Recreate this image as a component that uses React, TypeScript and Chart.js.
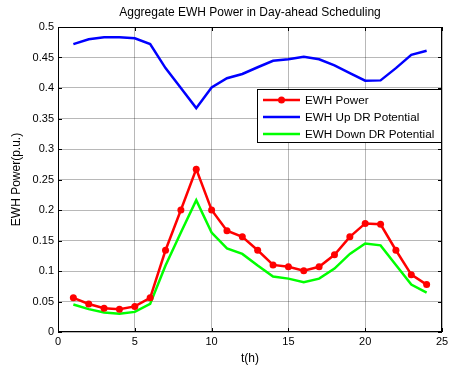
import React, { useEffect, useRef } from "react";
import { Chart, registerables } from "chart.js";

Chart.register(...registerables);

const hours = [1, 2, 3, 4, 5, 6, 7, 8, 9, 10, 11, 12, 13, 14, 15, 16, 17, 18, 19, 20, 21, 22, 23, 24];
const ewhPower = [0.056, 0.046, 0.039, 0.0375, 0.042, 0.056, 0.134, 0.2, 0.267, 0.2, 0.166, 0.156, 0.134, 0.11, 0.107, 0.1005, 0.107, 0.1266, 0.156, 0.178, 0.1766, 0.134, 0.094, 0.0777];
const upDR = [0.472, 0.48, 0.483, 0.483, 0.4815, 0.472, 0.4326, 0.4, 0.367, 0.401, 0.416, 0.423, 0.434, 0.4446, 0.447, 0.451, 0.447, 0.437, 0.4245, 0.412, 0.4125, 0.4326, 0.4543, 0.461];
const downDR = [0.045, 0.0375, 0.032, 0.03, 0.033, 0.046, 0.109, 0.163, 0.216, 0.163, 0.137, 0.128, 0.109, 0.091, 0.0875, 0.0815, 0.0875, 0.104, 0.128, 0.145, 0.142, 0.11, 0.0777, 0.0647];
const seriesLabels = ["EWH Power", "EWH Up DR Potential", "EWH Down DR Potential"];
const seriesColors = ["#ff0000", "#0000ff", "#00ff00"];
const titleText = "Aggregate EWH Power in Day-ahead Scheduling";
const xTitle = "t(h)";
const yTitle = "EWH Power(p.u.)";

const FONT = "Arial, 'Liberation Sans', sans-serif";

const framePlugin = {
  id: "frame",
  afterDraw(chart: any) {
    const { ctx, chartArea } = chart;
    const { left, right, top, bottom } = chartArea;
    const xs = chart.scales.x;
    const ys = chart.scales.y;
    ctx.save();
    ctx.strokeStyle = "#000";
    ctx.lineWidth = 1;
    ctx.strokeRect(left + 0.5, top + 0.5, right - left - 1, bottom - top - 1);
    const tl = 4;
    ctx.beginPath();
    xs.ticks.forEach((t: any) => {
      const px = Math.round(xs.getPixelForValue(t.value)) + 0.5;
      ctx.moveTo(px, bottom);
      ctx.lineTo(px, bottom - tl);
      ctx.moveTo(px, top);
      ctx.lineTo(px, top + tl);
    });
    ys.ticks.forEach((t: any) => {
      const py = Math.round(ys.getPixelForValue(t.value)) + 0.5;
      ctx.moveTo(left, py);
      ctx.lineTo(left + tl, py);
      ctx.moveTo(right, py);
      ctx.lineTo(right - tl, py);
    });
    ctx.stroke();
    ctx.fillStyle = "#000";
    ctx.font = `12px ${FONT}`;
    ctx.textAlign = "center";
    ctx.textBaseline = "middle";
    ctx.fillText(titleText, (left + right) / 2, 13);
    ctx.fillText(xTitle, (left + right) / 2, 359);
    ctx.save();
    ctx.translate(17, (top + bottom) / 2);
    ctx.rotate(-Math.PI / 2);
    ctx.fillText(yTitle, 0, 0);
    ctx.restore();
    const lx = 257, ly = 89, lw = 184, lh = 53;
    ctx.fillStyle = "#fff";
    ctx.fillRect(lx, ly, lw, lh);
    ctx.strokeStyle = "#000";
    ctx.lineWidth = 1;
    ctx.strokeRect(lx + 0.5, ly + 0.5, lw, lh);
    chart.data.datasets.forEach((ds: any, i: number) => {
      const y = ly + 11 + i * 17;
      ctx.strokeStyle = ds.borderColor;
      ctx.lineWidth = 2.5;
      ctx.beginPath();
      ctx.moveTo(lx + 6, y);
      ctx.lineTo(lx + 43, y);
      ctx.stroke();
      if (ds.pointRadius > 0) {
        ctx.fillStyle = ds.borderColor;
        ctx.beginPath();
        ctx.arc(lx + 24.5, y, 3.5, 0, Math.PI * 2);
        ctx.fill();
      }
      ctx.fillStyle = "#000";
      ctx.textAlign = "left";
      ctx.font = `11.7px ${FONT}`;
      ctx.fillText(ds.label, lx + 48, y + 1);
    });
    ctx.restore();
  },
};

export default function App() {
  const ref = useRef<HTMLCanvasElement>(null);
  useEffect(() => {
    document.body.style.margin = "0";
    const mk = (i: number, data: number[], marker: boolean) => ({
      label: seriesLabels[i],
      data: hours.map((h, k) => ({ x: h, y: data[k] })),
      borderColor: seriesColors[i],
      backgroundColor: seriesColors[i],
      borderWidth: 2.5,
      pointRadius: marker ? 3.5 : 0,
      pointBorderWidth: 0,
      pointBackgroundColor: seriesColors[i],
      tension: 0,
    });
    const chart = new Chart(ref.current!, {
      type: "line",
      data: {
        datasets: [mk(0, ewhPower, true), mk(1, upDR, false), mk(2, downDR, false)],
      },
      plugins: [framePlugin],
      options: {
        animation: false,
        responsive: false,
        devicePixelRatio: 1,
        layout: { padding: { top: 27, right: 12, left: 0, bottom: 0 } },
        plugins: { legend: { display: false }, title: { display: false }, tooltip: { enabled: false } },
        scales: {
          x: {
            type: "linear",
            min: 0,
            max: 25,
            ticks: { stepSize: 5, color: "#000", font: { size: 11, family: FONT }, padding: 3, maxRotation: 0 },
            grid: { color: "rgba(0,0,0,0.28)", drawTicks: false },
            border: { display: false },
            afterFit: (s: any) => { s.height = 38; },
          },
          y: {
            min: 0,
            max: 0.5,
            ticks: {
              stepSize: 0.05,
              color: "#000",
              font: { size: 11, family: FONT },
              padding: 4,
              callback: (v: any) => String(Math.round(v * 100) / 100),
            },
            grid: { color: "rgba(0,0,0,0.28)", drawTicks: false },
            border: { display: false },
            afterFit: (s: any) => { s.width = 58; },
          },
        },
      },
    } as any);
    return () => chart.destroy();
  }, []);
  return <canvas ref={ref} width={454} height={370} style={{ display: "block" }} />;
}
